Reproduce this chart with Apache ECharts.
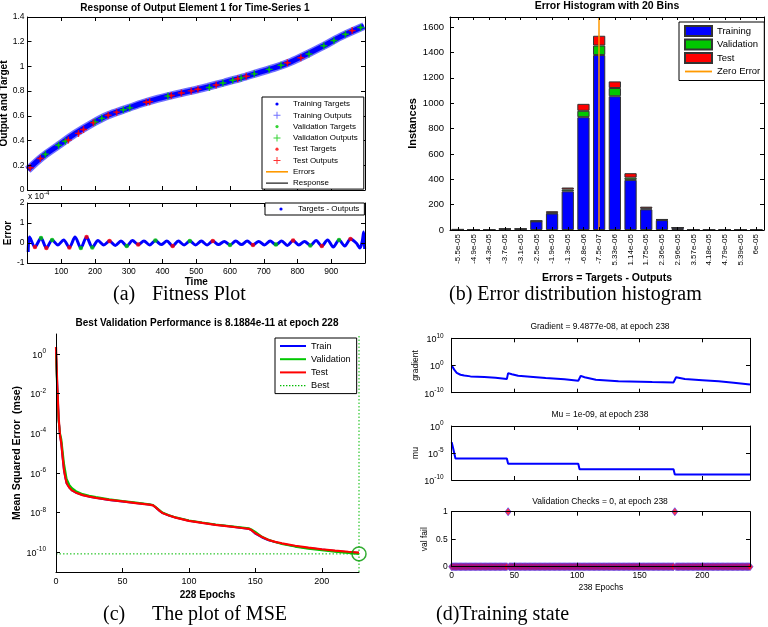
<!DOCTYPE html>
<html><head><meta charset="utf-8">
<script src="https://cdn.jsdelivr.net/npm/echarts@6/dist/echarts.min.js"></script>
<style>html,body{margin:0;padding:0;background:#fff}#c{width:768px;height:627px}</style>
</head><body><div id="c"></div>
<script>
// ---------- (a) Fitness plot ----------
const respTime  = [1,43,92,141,190,239,288,338,387,436,485,534,583,633,682,731,780,829,878,927,997];
const respValue = [0.164,0.267,0.362,0.456,0.537,0.605,0.653,0.700,0.740,0.772,0.802,0.835,0.870,0.907,0.948,0.988,1.037,1.100,1.167,1.240,1.326];
const valTime   = [53,92,112,200,220,284,303,416,539,579,608,633,672,716,751,834,878,908,942,987];
const valValue  = [0.290,0.362,0.395,0.550,0.580,0.650,0.665,0.760,0.830,0.866,0.888,0.907,0.940,0.976,1.010,1.100,1.167,1.210,1.260,1.315];
const testTime  = [8,38,121,151,166,195,239,264,352,362,426,456,485,505,559,623,648,770,810,962];
const testValue = [0.180,0.255,0.405,0.458,0.490,0.545,0.605,0.630,0.710,0.715,0.765,0.785,0.802,0.815,0.850,0.900,0.920,1.030,1.070,1.290];
const errTime  = [2,6,22,40,56,73,90,107,124,141,158,175,192,209,226,243,260,277,294,311,328,345,362,379,396,413,430,447,464,481,498,515,532,549,566,583,600,617,634,651,668,685,702,719,736,753,770,787,804,821,838,855,872,889,906,923,940,957,974,985,992,996,999];
const errValue = [-0.45,0.30,-0.20,0.25,-0.25,0.15,-0.10,0.15,-0.22,0.30,-0.25,0.30,-0.22,0.12,-0.10,0.10,-0.12,0.10,-0.15,0.12,-0.08,0.10,-0.10,0.12,-0.08,0.10,-0.15,0.10,-0.10,0.10,-0.10,0.10,-0.10,0.10,-0.08,0.08,-0.10,0.10,-0.08,0.10,-0.10,0.08,-0.10,0.10,-0.08,0.10,-0.12,0.12,-0.10,0.08,-0.12,0.12,-0.15,0.15,-0.20,0.15,-0.15,0.20,0.00,-0.25,0.10,0.55,-0.30];
const errValIdx  = [3,5,10,12,18,23,29,36,44,50,55];
const errTestIdx = [2,4,8,11,15,20,26,33,40,47,52,57];
const timeTicks  = [0,100,200,300,400,500,600,700,800,900,1000];
const timeLabels = [100,200,300,400,500,600,700,800,900];
const respYTicks = [0,0.2,0.4,0.6,0.8,1,1.2,1.4];
const errYTicks  = [-1,0,1,2];

// ---------- (b) Error histogram ----------
const binLabels = ['-5.5e-05','-4.9e-05','-4.3e-05','-3.7e-05','-3.1e-05','-2.5e-05','-1.9e-05','-1.3e-05','-6.8e-06','-7.5e-07','5.33e-06','1.14e-05','1.75e-05','2.36e-05','2.96e-05','3.57e-05','4.18e-05','4.79e-05','5.39e-05','6e-05'];
const histTrain = [3,2,0,7,7,68,130,305,890,1380,1055,395,163,78,17,2,0,2,2,2];
const histVal   = [1,1,0,1,1,2,5,15,50,75,65,18,7,3,1,0,0,1,1,1];
const histTest  = [1,1,0,2,2,4,13,15,55,77,52,35,14,4,3,1,0,1,1,1];
const zeroErrorBin = '-7.5e-07';
const histYTicks = [0,200,400,600,800,1000,1200,1400,1600];
const histMax = 1680;

// ---------- (c) MSE ----------
const mseEpoch = [0,1,2,3,4,5,6,7,8,10,12,15,20,25,30,40,50,60,70,73,75,78,80,85,90,100,110,120,130,140,145,147,150,155,160,165,170,180,190,200,210,220,228];
const mseTrain = [1.2,2e-2,5e-4,8e-5,3e-5,6e-6,1.4e-6,6e-7,3e-7,1.8e-7,1.3e-7,1e-7,7.5e-8,6.3e-8,5.5e-8,4.3e-8,3.6e-8,3e-8,2.5e-8,2.3e-8,1.8e-8,1.2e-8,9.5e-9,7e-9,5.5e-9,3.8e-9,3e-9,2.4e-9,2e-9,1.65e-9,1.5e-9,1.3e-9,8.5e-10,5.5e-10,4e-10,3.2e-10,2.7e-10,2e-10,1.6e-10,1.35e-10,1.15e-10,1e-10,9.2e-11];
const mseVal   = [1.0,1e-2,4e-4,1e-4,5e-5,1.2e-5,3e-6,1.2e-6,5e-7,2.5e-7,1.7e-7,1.2e-7,8.5e-8,7e-8,6e-8,4.6e-8,3.8e-8,3.2e-8,2.6e-8,2.4e-8,1.9e-8,1.3e-8,1e-8,7.3e-9,5.7e-9,4e-9,3.1e-9,2.5e-9,2.1e-9,1.75e-9,1.6e-9,1.4e-9,1.05e-9,6e-10,4.2e-10,3.2e-10,2.6e-10,1.9e-10,1.5e-10,1.25e-10,1.05e-10,9e-11,8.1884e-11];
const mseTest  = [2.2,2e-2,6e-4,8e-5,3e-5,6e-6,1.4e-6,6e-7,3e-7,1.8e-7,1.3e-7,1e-7,7.5e-8,6.3e-8,5.5e-8,4.3e-8,3.6e-8,3e-8,2.5e-8,2.3e-8,1.8e-8,1.2e-8,9.5e-9,7e-9,5.5e-9,3.8e-9,3e-9,2.4e-9,2e-9,1.65e-9,1.5e-9,1.3e-9,9e-10,5.8e-10,4.1e-10,3.3e-10,2.8e-10,2.1e-10,1.7e-10,1.4e-10,1.2e-10,1.05e-10,9.5e-11];
const bestEpoch = 228;
const bestPerf = 8.1884e-11;
const mseXTicks = [0,50,100,150,200];
const mseYTicks = [1e-10,1e-8,1e-6,1e-4,1e-2,1];
const mseYMin = 1e-11, mseYMax = 10;

// ---------- (d) Training state ----------
const gradEpoch = [0,1,2,4,7,10,15,26,35,44,45,48,53,65,75,90,101,103,106,115,133,160,177,179,186,200,213,225,238];
const gradValue = [1,0.2,0.03,2e-3,4e-4,2e-4,1e-4,6e-5,3e-5,1e-5,1.6e-3,6e-4,1.6e-4,6e-5,2.5e-5,8e-6,2.5e-6,1.6e-4,5e-5,6e-6,1.6e-6,8e-7,6e-7,5e-5,1e-5,4e-6,1.6e-6,5e-7,9.4877e-8];
const muEpoch = [0,1,2,3,44,45,101,102,177,178,238];
const muValue = [1e-3,1e-4,1e-5,1e-6,1e-6,1e-7,1e-7,1e-8,1e-8,1e-9,1e-9];
const valFailEpochs = [45,178];
const totalEpochs = 238;
const stateXTicks = [0,50,100,150,200];
const gradTicks = [1e-10,1,1e10];
const muTicks = [1e-10,1e-5,1];
const valFailTicks = [0,0.5,1];

// ---------- build ----------
const FONT = '"Liberation Sans", Arial, sans-serif';
const SERIF = '"Liberation Serif", "Times New Roman", serif';
const BLUE = '#0000ff', GREEN = '#00c800', RED = '#ff0000', ORANGE = '#ff9900', BESTGREEN = '#00bb00';
const zip = (a, b) => a.map((v, i) => [v, b[i]]);
const numFmt = v => String(Math.round(v * 1000) / 1000);
const pow10 = v => '{b|10}{s|' + Math.round(Math.log10(v)) + '}';
const rich = (fb, fs) => ({
  b: {fontSize: fb, fontFamily: FONT, color: '#000', verticalAlign: 'bottom'},
  s: {fontSize: fs, fontFamily: FONT, color: '#000', padding: [0, 0, 5, 0], verticalAlign: 'top'}
});

function axis(o) {
  const isCat = o.type === 'category';
  return {
    gridIndex: o.grid, type: o.type || 'value', position: o.pos,
    min: o.min, max: o.max, data: o.data, boundaryGap: isCat, logBase: 10,
    axisLine: {show: o.line !== false, onZero: false, lineStyle: {color: '#000', width: 1}},
    axisTick: isCat
      ? {show: true, inside: true, alignWithLabel: true, interval: 0, length: 3, lineStyle: {color: '#000'}}
      : {show: !!o.ticks, inside: true, length: o.tickLen || 4, customValues: o.ticks, lineStyle: {color: '#000'}},
    axisLabel: {
      show: o.labels !== undefined,
      customValues: Array.isArray(o.labels) ? o.labels : undefined,
      formatter: o.fmt || (isCat ? undefined : numFmt), rich: o.rich,
      fontFamily: FONT, fontSize: o.fs || 9, color: '#000',
      margin: o.margin == null ? 4 : o.margin, rotate: o.rotate || 0, interval: 0, hideOverlap: false
    },
    splitLine: {show: false}, minorTick: {show: false},
    name: o.name || '', nameLocation: 'middle', nameGap: o.nameGap || 0, nameRotate: o.nameRotate,
    nameTextStyle: {fontFamily: FONT, fontSize: o.nameFs || 10, fontWeight: o.nameBold === false ? 'normal' : 'bold', color: '#000'},
    silent: true, z: 5
  };
}

const grid = [
  {left: 27.5, top: 17, width: 337.5, height: 173},
  {left: 27.5, top: 203, width: 337.5, height: 60},
  {left: 450, top: 17, width: 314, height: 213},
  {left: 56, top: 334, width: 303, height: 238},
  {left: 451.7, top: 338.3, width: 298.3, height: 54.4},
  {left: 451.7, top: 426, width: 298.3, height: 54},
  {left: 451.7, top: 511.7, width: 298.3, height: 55}
].map(g => Object.assign({show: false, containLabel: false, outerBoundsMode: 'none'}, g));

const xAxis = [
  axis({grid: 0, pos: 'bottom', min: 0, max: 1000, ticks: timeTicks}),
  axis({grid: 0, pos: 'top', min: 0, max: 1000, ticks: timeTicks}),
  axis({grid: 1, pos: 'bottom', min: 0, max: 1000, ticks: timeTicks, labels: timeLabels, fs: 8.5, margin: 4, name: 'Time', nameGap: 12}),
  axis({grid: 1, pos: 'top', min: 0, max: 1000, ticks: timeTicks}),
  axis({grid: 2, pos: 'bottom', type: 'category', data: binLabels, labels: true, rotate: 90, fs: 8, margin: 4, name: 'Errors = Targets - Outputs', nameGap: 43, nameFs: 10.5}),
  axis({grid: 2, pos: 'top', type: 'category', data: binLabels}),
  axis({grid: 3, pos: 'bottom', min: 0, max: bestEpoch, ticks: mseXTicks, labels: mseXTicks, fs: 9, margin: 5, name: '228 Epochs', nameGap: 18}),
  axis({grid: 4, pos: 'bottom', min: 0, max: totalEpochs, ticks: stateXTicks}),
  axis({grid: 4, pos: 'top', min: 0, max: totalEpochs, ticks: stateXTicks}),
  axis({grid: 5, pos: 'bottom', min: 0, max: totalEpochs, ticks: stateXTicks}),
  axis({grid: 5, pos: 'top', min: 0, max: totalEpochs, ticks: stateXTicks}),
  axis({grid: 6, pos: 'bottom', min: 0, max: totalEpochs, ticks: stateXTicks, labels: stateXTicks, fs: 8.5, margin: 4, name: '238 Epochs', nameGap: 16, nameFs: 8.5, nameBold: false}),
  axis({grid: 6, pos: 'top', min: 0, max: totalEpochs, ticks: stateXTicks})
];
const yAxis = [
  axis({grid: 0, pos: 'left', min: 0, max: 1.4, ticks: respYTicks, labels: respYTicks, fs: 8.5, margin: 3, name: 'Output and Target', nameGap: 15, nameRotate: 90}),
  axis({grid: 0, pos: 'right', min: 0, max: 1.4, ticks: respYTicks}),
  axis({grid: 1, pos: 'left', min: -1, max: 2, ticks: errYTicks, labels: errYTicks, fs: 8.5, margin: 3, name: 'Error', nameGap: 14, nameRotate: 90}),
  axis({grid: 1, pos: 'right', min: -1, max: 2, ticks: errYTicks}),
  axis({grid: 2, pos: 'left', min: 0, max: histMax, ticks: histYTicks, labels: histYTicks, fs: 9.5, margin: 6, name: 'Instances', nameGap: 30, nameFs: 11, nameRotate: 90}),
  axis({grid: 2, pos: 'right', min: 0, max: histMax, ticks: histYTicks}),
  axis({grid: 3, pos: 'left', type: 'log', min: mseYMin, max: mseYMax, ticks: mseYTicks, labels: mseYTicks, fmt: pow10, rich: rich(9, 6.5), margin: 10, name: 'Mean Squared Error  (mse)', nameGap: 28, nameFs: 10.5, nameRotate: 90}),
  axis({grid: 4, pos: 'left', type: 'log', min: 1e-10, max: 1e10, ticks: gradTicks, labels: gradTicks, fmt: pow10, rich: rich(9, 6.5), margin: 8, name: 'gradient', nameGap: 26, nameFs: 8.5, nameBold: false, nameRotate: 90}),
  axis({grid: 4, pos: 'right', type: 'log', min: 1e-10, max: 1e10, ticks: gradTicks}),
  axis({grid: 5, pos: 'left', type: 'log', min: 1e-10, max: 1, ticks: muTicks, labels: muTicks, fmt: pow10, rich: rich(9, 6.5), margin: 8, name: 'mu', nameGap: 27, nameFs: 8.5, nameBold: false, nameRotate: 90}),
  axis({grid: 5, pos: 'right', type: 'log', min: 1e-10, max: 1, ticks: muTicks}),
  axis({grid: 6, pos: 'left', min: 0, max: 1, ticks: valFailTicks, labels: valFailTicks, fs: 8.5, margin: 4, name: 'val fail', nameGap: 23, nameFs: 8.5, nameBold: false, nameRotate: 90}),
  axis({grid: 6, pos: 'right', min: 0, max: 1, ticks: valFailTicks})
];

const plusPath = 'path://M4,0 L6,0 L6,4 L10,4 L10,6 L6,6 L6,10 L4,10 L4,6 L0,6 L0,4 L4,4 Z';
const dotIcon = w => 'path://M0,0 M' + w + ',10 M' + (w / 2 - 1.6) + ',5 a1.6,1.6 0 1,0 3.2,0 a1.6,1.6 0 1,0 -3.2,0 Z';
const plusIcon = w => 'path://M0,0 M' + w + ',10 M' + (w / 2 - 0.5) + ',1.5 h1 v3 h3 v1 h-3 v3 h-1 v-3 h-3 v-1 h3 Z';
const lineIcon = (w, t) => 'path://M0,0 M' + w + ',10 M0,' + (5 - t / 2) + ' h' + w + ' v' + t + ' h-' + w + ' Z';
const dottedIcon = w => {
  let p = 'path://M0,0 M' + w + ',10';
  for (let x = 0; x < w; x += 3) p += ' M' + x + ',4.5 h1.4 v1.2 h-1.4 Z';
  return p;
};

const valFailData = [];
for (let e = 0; e <= totalEpochs; e++) valFailData.push([e, valFailEpochs.includes(e) ? 1 : 0]);

const respData = zip(respTime, respValue);
const errData = zip(errTime, errValue);
const barStyle = {borderColor: '#333', borderWidth: 1};
const bestLine = {color: BESTGREEN, width: 1, type: [1.5, 2]};

const series = [
  {name: 'Response', type: 'line', xAxisIndex: 0, yAxisIndex: 0, data: respData, smooth: 0.3, symbol: 'none', color: '#000', lineStyle: {width: 1}, z: 1},
  {name: 'Training Outputs', type: 'line', xAxisIndex: 0, yAxisIndex: 0, data: respData, smooth: 0.3, symbol: 'none', color: '#7070ff', lineStyle: {width: 8}, z: 2},
  {name: 'Training Targets', type: 'line', xAxisIndex: 0, yAxisIndex: 0, data: respData, smooth: 0.3, symbol: 'none', color: BLUE, lineStyle: {width: 5}, z: 3},
  {name: 'Validation Outputs', type: 'scatter', xAxisIndex: 0, yAxisIndex: 0, data: zip(valTime, valValue), symbol: plusPath, symbolSize: 7, color: GREEN, z: 4},
  {name: 'Validation Targets', type: 'scatter', xAxisIndex: 0, yAxisIndex: 0, data: zip(valTime, valValue), symbol: 'circle', symbolSize: 3, color: GREEN, z: 5},
  {name: 'Test Outputs', type: 'scatter', xAxisIndex: 0, yAxisIndex: 0, data: zip(testTime, testValue), symbol: plusPath, symbolSize: 7, color: RED, z: 4},
  {name: 'Test Targets', type: 'scatter', xAxisIndex: 0, yAxisIndex: 0, data: zip(testTime, testValue), symbol: 'circle', symbolSize: 3, color: RED, z: 5},
  {name: 'Errors', type: 'line', xAxisIndex: 2, yAxisIndex: 2, data: errData, smooth: 0.3, symbol: 'none', color: ORANGE, lineStyle: {width: 1.5}, z: 1},
  {name: 'Targets - Outputs', type: 'line', xAxisIndex: 2, yAxisIndex: 2, data: errData, smooth: 0.3, symbol: 'none', color: BLUE, lineStyle: {width: 3}, z: 2},
  {name: 'Validation Errors', type: 'scatter', xAxisIndex: 2, yAxisIndex: 2, data: errValIdx.map(i => [errTime[i], errValue[i]]), symbolSize: 4.5, color: GREEN, z: 3},
  {name: 'Test Errors', type: 'scatter', xAxisIndex: 2, yAxisIndex: 2, data: errTestIdx.map(i => [errTime[i], errValue[i]]), symbolSize: 4.5, color: RED, z: 3},

  {name: 'Training', type: 'bar', xAxisIndex: 4, yAxisIndex: 4, stack: 'hist', data: histTrain, color: BLUE, itemStyle: barStyle, barCategoryGap: '22%'},
  {name: 'Validation', type: 'bar', xAxisIndex: 4, yAxisIndex: 4, stack: 'hist', data: histVal, color: GREEN, itemStyle: barStyle},
  {name: 'Test', type: 'bar', xAxisIndex: 4, yAxisIndex: 4, stack: 'hist', data: histTest, color: RED, itemStyle: barStyle,
    markLine: {silent: true, symbol: 'none', label: {show: false}, lineStyle: {color: ORANGE, width: 1.5, type: 'solid'}, data: [{xAxis: zeroErrorBin}]}},
  {name: 'Zero Error', type: 'line', xAxisIndex: 4, yAxisIndex: 4, data: [], symbol: 'none', showSymbol: false, color: ORANGE, lineStyle: {width: 1.5}},

  {name: 'mse-Train', type: 'line', xAxisIndex: 6, yAxisIndex: 6, data: zip(mseEpoch, mseTrain), symbol: 'none', color: BLUE, lineStyle: {width: 2}, z: 2},
  {name: 'mse-Validation', type: 'line', xAxisIndex: 6, yAxisIndex: 6, data: zip(mseEpoch, mseVal), symbol: 'none', color: GREEN, lineStyle: {width: 2}, z: 3},
  {name: 'mse-Test', type: 'line', xAxisIndex: 6, yAxisIndex: 6, data: zip(mseEpoch, mseTest), symbol: 'none', color: RED, lineStyle: {width: 2.2}, z: 4},
  {name: 'Best', type: 'line', xAxisIndex: 6, yAxisIndex: 6, data: [[0, bestPerf], [bestEpoch, bestPerf]], symbol: 'none', color: BESTGREEN, lineStyle: bestLine, z: 1},
  {name: 'Best', type: 'line', xAxisIndex: 6, yAxisIndex: 6, data: [[bestEpoch, mseYMin], [bestEpoch, mseYMax]], symbol: 'none', color: BESTGREEN, lineStyle: bestLine, clip: false, z: 1},
  {name: 'Best Point', type: 'scatter', xAxisIndex: 6, yAxisIndex: 6, data: [[bestEpoch, bestPerf]], symbol: 'circle', symbolSize: 14, clip: false,
    itemStyle: {color: 'rgba(0,0,0,0)', borderColor: '#009900', borderWidth: 1.5}, z: 6},

  {name: 'Gradient', type: 'line', xAxisIndex: 7, yAxisIndex: 7, data: zip(gradEpoch, gradValue), symbol: 'none', color: BLUE, lineStyle: {width: 2}},
  {name: 'Mu', type: 'line', xAxisIndex: 9, yAxisIndex: 9, data: zip(muEpoch, muValue), symbol: 'none', color: BLUE, lineStyle: {width: 2}},
  {name: 'Val Fail', type: 'scatter', xAxisIndex: 11, yAxisIndex: 11, data: valFailData, symbol: 'diamond', symbolSize: [6, 8], clip: false,
    color: '#ff0020', itemStyle: {borderColor: '#2a2aff', borderWidth: 0.7}}
];

const legBase = {orient: 'vertical', selectedMode: false, borderColor: '#000', borderWidth: 1, backgroundColor: '#fff', z: 20};
const legend = [
  Object.assign({}, legBase, {left: 262, top: 97, itemWidth: 22, itemHeight: 10, itemGap: 1.3, padding: [2, 6, 1, 4],
    textStyle: {fontFamily: FONT, fontSize: 8, color: '#000', lineHeight: 10},
    data: [
      {name: 'Training Targets', icon: dotIcon(22)}, {name: 'Training Outputs', icon: plusIcon(22)},
      {name: 'Validation Targets', icon: dotIcon(22)}, {name: 'Validation Outputs', icon: plusIcon(22)},
      {name: 'Test Targets', icon: dotIcon(22)}, {name: 'Test Outputs', icon: plusIcon(22)},
      {name: 'Errors', icon: lineIcon(22, 1.6)}, {name: 'Response', icon: lineIcon(22, 1.1)}
    ]}),
  Object.assign({}, legBase, {left: 265, top: 203, itemWidth: 24, itemHeight: 10, padding: [1, 5, 1, 4],
    textStyle: {fontFamily: FONT, fontSize: 8, color: '#000', lineHeight: 10},
    data: [{name: 'Targets - Outputs', icon: dotIcon(24)}]}),
  Object.assign({}, legBase, {left: 679, top: 22, itemWidth: 27, itemHeight: 10, itemGap: 1.5, padding: [3, 4, 3, 5],
    textStyle: {fontFamily: FONT, fontSize: 9.5, color: '#000', lineHeight: 12},
    data: [{name: 'Training', icon: 'rect'}, {name: 'Validation', icon: 'rect'}, {name: 'Test', icon: 'rect'}, {name: 'Zero Error', icon: lineIcon(27, 1.8)}]}),
  Object.assign({}, legBase, {left: 275, top: 338, itemWidth: 26, itemHeight: 10, itemGap: 1.2, padding: [2, 6, 2, 5],
    textStyle: {fontFamily: FONT, fontSize: 9.2, color: '#000', lineHeight: 12},
    formatter: n => n.replace('mse-', ''),
    data: [{name: 'mse-Train', icon: lineIcon(26, 2)}, {name: 'mse-Validation', icon: lineIcon(26, 2)},
           {name: 'mse-Test', icon: lineIcon(26, 2)},
           {name: 'Best', icon: dottedIcon(26), itemStyle: {color: BESTGREEN, borderWidth: 0}}]})
];

function txt(x, y, text, o) {
  return {type: 'text', x: x, y: y, silent: true, z: 100,
    style: Object.assign({text: text, fill: '#000', fontFamily: FONT, fontSize: 10, fontWeight: 'normal', align: 'center', verticalAlign: 'middle'}, o || {})};
}
const cap = {fontFamily: SERIF, fontSize: 20, align: 'left'};
const graphic = [
  txt(195, 8, 'Response of Output Element 1 for Time-Series 1', {fontWeight: 'bold'}),
  txt(607, 6, 'Error Histogram with 20 Bins', {fontWeight: 'bold', fontSize: 10.5}),
  txt(207, 323, 'Best Validation Performance is 8.1884e-11 at epoch 228', {fontWeight: 'bold'}),
  txt(600, 327, 'Gradient = 9.4877e-08, at epoch 238', {fontSize: 8.5}),
  txt(600, 415, 'Mu = 1e-09, at epoch 238', {fontSize: 8.5}),
  txt(600, 502, 'Validation Checks = 0, at epoch 238', {fontSize: 8.5}),
  txt(28, 196, '{b|x 10}{s|-4}', {align: 'left', rich: rich(8.5, 6)}),
  txt(113, 295, '(a)', cap),
  txt(152, 295, 'Fitness Plot', cap),
  txt(449, 295, '(b) Error distribution histogram', cap),
  txt(103, 615, '(c)', cap),
  txt(152, 615, 'The plot of MSE', cap),
  txt(436, 615, '(d)Training state', cap)
];

const chart = echarts.init(document.getElementById('c'), null, {renderer: 'canvas', width: 768, height: 627});
chart.setOption({
  backgroundColor: '#fff', animation: false,
  grid: grid, xAxis: xAxis, yAxis: yAxis, series: series, legend: legend, graphic: graphic
});
</script>
</body></html>
